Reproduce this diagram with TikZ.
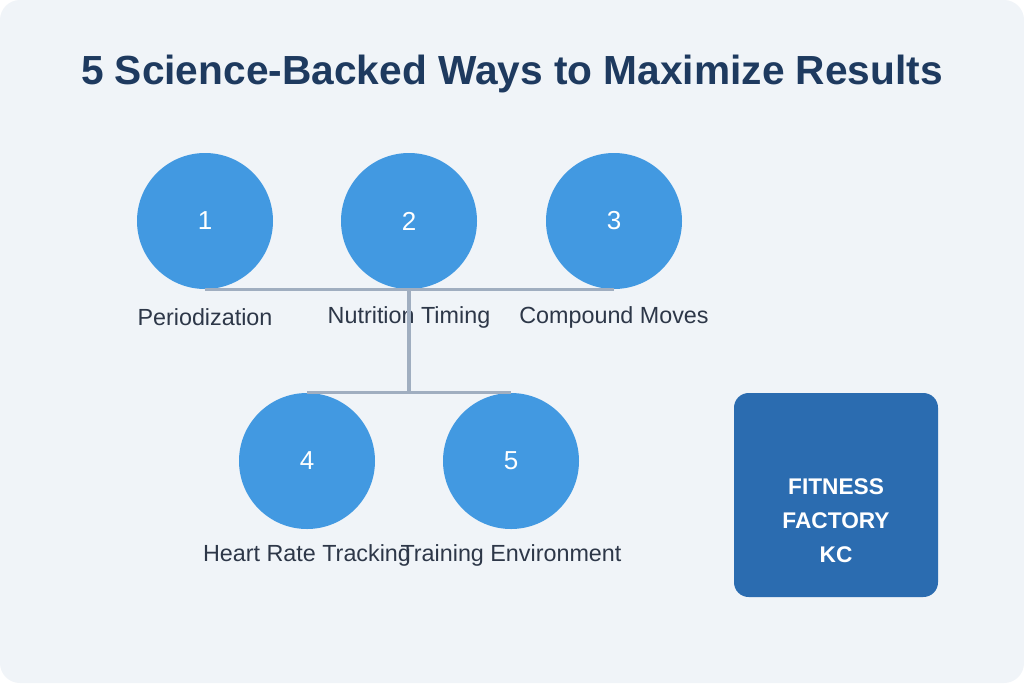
\documentclass[tikz,border=0pt]{standalone}
\usepackage{fontspec}
\setmainfont{Liberation Sans}
\usepackage{tikz}
\usetikzlibrary{positioning}
\definecolor{panelbg}{HTML}{F0F4F8}
\definecolor{titlenavy}{HTML}{1E3A5F}
\definecolor{stepblue}{HTML}{4299E1}
\definecolor{brandblue}{HTML}{2B6CB0}
\definecolor{linkgray}{HTML}{A0AEC0}
\definecolor{labelgray}{HTML}{2D3748}

\begin{document}
\begin{tikzpicture}[x=0.75pt, y=-0.75pt,
	stepdot/.style={circle, fill=stepblue, minimum size=102pt, inner sep=0pt,
		text=white, font=\fontsize{19.5pt}{23pt}\selectfont},
	steplabel/.style={text=labelgray, inner sep=0pt, font=\fontsize{17.5pt}{21pt}\selectfont},
	link/.style={linkgray, line width=2.4pt}]
	
	\useasboundingbox (0,0) rectangle (1024,683);
	\fill[white] (0,0) rectangle (1024,683);
	\fill[panelbg, rounded corners=15pt] (0,0) rectangle (1024,683);
	
	\node[text=titlenavy, font=\bfseries\fontsize{30.5pt}{37pt}\selectfont] (title) at (512,74) {5 Science-Backed Ways to Maximize Results};
	
	% top row
	\foreach \i/\x/\txt in {1/205/Periodization, 2/409/Nutrition Timing, 3/614/Compound Moves}{
		\node[stepdot] (c\i) at (\x,221) {\i};
		\node[steplabel] (l\i) at (\x,317) {\txt};
	}
	% bottom row
	\foreach \i/\x/\txt in {4/307/Heart Rate Tracking, 5/511/Training Environment}{
		\node[stepdot] (c\i) at (\x,461) {\i};
		\node[steplabel] (l\i) at (\x,555) {\txt};
	}
	
	\coordinate (hub) at (c2.south |- c4.north);
	\draw[link] (c1.south) -- (c3.south);
	\draw[link] (c2.south) -- (hub);
	\draw[link] (c4.north) -- (c5.north);
	
	\node[fill=brandblue, rounded corners=11pt, minimum size=153pt, inner sep=0pt] (brand) at (836,495) {};
	\node[text=white, align=center, font=\bfseries\fontsize{17pt}{25.5pt}\selectfont] (brandname) at (836,521) {FITNESS\\FACTORY\\KC};
	
\end{tikzpicture}
\end{document}
